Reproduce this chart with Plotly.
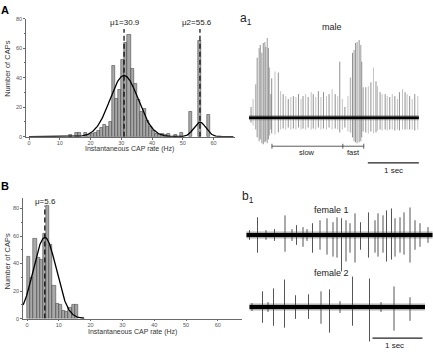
import plotly.graph_objects as go
import numpy as np

W, H = 433, 354
FONT = "Liberation Sans, Arial, sans-serif"

# ---------------- data ----------------
# Panel A: histogram of instantaneous CAP rate (male), 1 Hz bins (left edges)
a_bins = [13, 15, 16, 18, 19, 20, 21, 22, 23, 24, 25, 26, 27, 28, 29, 30, 31, 32,
          33, 34, 35, 36, 37, 38, 39, 40, 41, 42, 43, 44, 45, 47, 49, 52, 55, 58]
a_counts = [1, 3, 3, 3, 1, 2, 3, 4, 6, 8, 7, 10, 48, 26, 32, 52, 64, 69,
            46, 36, 25, 17, 19, 11, 7, 4, 2, 1, 2, 1, 2, 1, 3, 17, 65, 15]
a_mu = [30.9, 55.6]
a_amp = [41.5, 9.8]
a_sigma = [4.6, 2.0]
a_xticks = [0, 10, 20, 30, 40, 50, 60]
a_yticks = [0, 20, 40, 60, 80]

# Panel B: histogram (female)
b_bins = [0, 1, 2, 3, 4, 5, 6, 7, 8, 9, 10, 11, 12, 13, 14, 15, 17]
b_counts = [45, 30, 58, 44, 43, 62, 82, 54, 24, 11, 10, 6, 5, 8, 10, 10, 1]
b_mu = 5.6
b_amp = 59
b_sigma = 3.6
b_xticks = [0, 10, 20, 30, 40, 50, 60]
b_yticks = [0, 20, 40, 60, 80]

# a1: male recording (time in s, spike amplitudes in a.u.)
male_start, male_end = 0.0, 3.33
male_t = [0.04, 0.08,
          0.445, 0.51, 0.575, 0.62, 0.67, 0.72, 0.77, 0.82, 0.87, 0.92, 0.97, 1.02,
          1.06, 1.11, 1.16, 1.22, 1.26, 1.31, 1.36, 1.41, 1.46, 1.52, 1.57, 1.63,
          1.69, 1.74, 1.78, 1.83, 1.88, 1.94,
          2.29, 2.34, 2.39, 2.44, 2.49, 2.52, 2.57, 2.61, 2.67, 2.71, 2.76, 2.81,
          2.86, 2.91, 2.95, 3.01, 3.06, 3.10, 3.15, 3.20, 3.25, 3.31]
male_up = [11, 19,
           40, 47, 46, 27, 24, 22, 19, 21, 22, 21, 24, 19,
           22, 24, 21, 26, 24, 21, 27, 21, 26, 22, 24, 29,
           24, 22, 57, 19, 11, 22,
           31, 32, 36, 51, 37, 32, 26, 24, 24, 22, 21, 24,
           22, 19, 26, 29, 26, 24, 22, 19, 24, 22]
male_down = [5, 8,
             16, 17, 15, 12, 11, 12, 10, 12, 11, 12, 10, 12,
             11, 12, 10, 12, 11, 12, 10, 12, 11, 12, 10, 12,
             11, 12, 15, 12, 10, 14,
             15, 16, 14, 16, 15, 13, 12, 13, 12, 13, 12, 12,
             13, 12, 13, 12, 12, 12, 12, 12, 13, 12]
burst_t = [0.13, 0.16, 0.20, 0.22, 0.25, 0.28, 0.31, 0.33, 0.36, 0.38, 0.40, 0.43,
           1.99, 2.03, 2.06, 2.09, 2.12, 2.16, 2.19, 2.21, 2.24]
burst_up = [34, 61, 71, 74, 66, 76, 77, 72, 81, 71, 51, 24,
            41, 66, 69, 76, 77, 79, 74, 57, 31]
burst_down = [12, 20, 24, 22, 26, 27, 25, 24, 26, 22, 18, 12,
              15, 20, 24, 25, 26, 25, 24, 20, 14]
slow_span = [0.45, 1.84]
fast_span = [1.84, 2.25]
male_scalebar = [2.33, 3.33]

# b1: female recordings
f1_start, f1_end = -0.01, 3.71
f1_t = [0.05, 0.21, 0.38, 0.55, 0.76, 0.90, 0.99, 1.12, 1.20, 1.31, 1.46, 1.60, 1.72,
        1.80, 1.89, 1.98, 2.06, 2.16, 2.27, 2.43, 2.56, 2.62, 2.72, 2.79, 2.89,
        2.96, 3.06, 3.14, 3.26, 3.36, 3.46, 3.62]
f1_up = [5, 18, 5, 6, 20, 6, 10, 8, 6, 12, 15, 17, 13,
         18, 17, 15, 12, 22, 13, 23, 15, 22, 20, 25, 27,
         17, 18, 23, 28, 15, 12, 8]
f1_down = [5, 18, 5, 6, 17, 6, 10, 12, 6, 18, 15, 20, 22,
           23, 37, 27, 18, 28, 15, 23, 18, 22, 18, 27, 25,
           22, 18, 20, 28, 15, 12, 8]
f2_start, f2_end = 0.05, 3.56
f2_t = [0.10, 0.31, 0.42, 0.53, 0.75, 0.97, 1.23, 1.48, 1.65, 1.86, 2.11, 2.45,
        2.68, 2.94, 3.26]
f2_up = [4, 16, 5, 19, 28, 12, 13, 16, 18, 6, 31, 29, 5, 21, 10]
f2_down = [4, 16, 5, 19, 21, 12, 12, 17, 26, 6, 19, 35, 5, 24, 14]
female_scalebar = [2.51, 3.51]


# ---------------- helpers ----------------
def dx(p0, p1):
    return [p0 / W, p1 / W]


def dy(top, bottom):
    return [1 - bottom / H, 1 - top / H]


def segments(ts, ups, downs):
    xs, ys = [], []
    for t, u, d in zip(ts, ups, downs):
        xs += [t, t, None]
        ys += [u, -d, None]
    return xs, ys


def gauss(x, amp, mu, sig):
    return amp * np.exp(-(x - mu) ** 2 / (2 * sig ** 2))


fig = go.Figure()

# ---- Panel A ----
fig.add_trace(go.Bar(x=[b + 0.5 for b in a_bins], y=a_counts, width=1,
                     marker=dict(color="#a8a8a8", line=dict(color="#303030", width=0.5)),
                     xaxis="x", yaxis="y", showlegend=False))
xa = np.linspace(0, 66.5, 600)
ya = gauss(xa, a_amp[0], a_mu[0], a_sigma[0]) + gauss(xa, a_amp[1], a_mu[1], a_sigma[1])
fig.add_trace(go.Scatter(x=xa, y=ya, mode="lines", line=dict(color="black", width=1.3),
                         xaxis="x", yaxis="y", showlegend=False))
for m in a_mu:
    fig.add_trace(go.Scatter(x=[m, m], y=[0, 73], mode="lines",
                             line=dict(color="black", width=1.2, dash="5px,3px"),
                             xaxis="x", yaxis="y", showlegend=False))

# ---- Panel B ----
fig.add_trace(go.Bar(x=[b + 0.5 for b in b_bins], y=b_counts, width=1,
                     marker=dict(color="#a8a8a8", line=dict(color="#303030", width=0.5)),
                     xaxis="x2", yaxis="y2", showlegend=False))
xb = np.linspace(-1.2, 18, 300)
fig.add_trace(go.Scatter(x=xb, y=gauss(xb, b_amp, b_mu, b_sigma), mode="lines",
                         line=dict(color="black", width=1.3),
                         xaxis="x2", yaxis="y2", showlegend=False))
fig.add_trace(go.Scatter(x=[b_mu, b_mu], y=[0, 82], mode="lines",
                         line=dict(color="black", width=1.2, dash="5px,3px"),
                         xaxis="x2", yaxis="y2", showlegend=False))

# ---- a1 male trace ----
bx, by = segments(burst_t[0::2], burst_up[0::2], burst_down[0::2])
fig.add_trace(go.Scatter(x=bx, y=by, mode="lines", line=dict(color="#b8b8b8", width=1.4),
                         xaxis="x3", yaxis="y3", showlegend=False))
bx, by = segments(burst_t[1::2], burst_up[1::2], burst_down[1::2])
fig.add_trace(go.Scatter(x=bx, y=by, mode="lines", line=dict(color="#909090", width=1.0),
                         xaxis="x3", yaxis="y3", showlegend=False))
mx, my = segments(male_t[0::2], male_up[0::2], male_down[0::2])
fig.add_trace(go.Scatter(x=mx, y=my, mode="lines", line=dict(color="#606060", width=0.7),
                         xaxis="x3", yaxis="y3", showlegend=False))
mx, my = segments(male_t[1::2], male_up[1::2], male_down[1::2])
fig.add_trace(go.Scatter(x=mx, y=my, mode="lines", line=dict(color="#a8a8a8", width=0.7),
                         xaxis="x3", yaxis="y3", showlegend=False))
fig.add_trace(go.Scatter(x=[male_start, male_end], y=[0, 0], mode="lines",
                         line=dict(color="#555", width=5), opacity=0.5,
                         xaxis="x3", yaxis="y3", showlegend=False))
fig.add_trace(go.Scatter(x=[male_start, male_end], y=[0, 0], mode="lines",
                         line=dict(color="black", width=2.5),
                         xaxis="x3", yaxis="y3", showlegend=False))
# slow / fast bracket
brx = [slow_span[0], fast_span[1], None]
bry = [-29, -29, None]
for t in [slow_span[0], slow_span[1], fast_span[1]]:
    brx += [t, t, None]
    bry += [-26.5, -31.5, None]
fig.add_trace(go.Scatter(x=brx, y=bry, mode="lines", line=dict(color="#333", width=0.8),
                         xaxis="x3", yaxis="y3", showlegend=False))
fig.add_trace(go.Scatter(x=male_scalebar, y=[-46, -46], mode="lines",
                         line=dict(color="#222", width=1.2),
                         xaxis="x3", yaxis="y3", showlegend=False))

# ---- b1 female traces ----
for (ts, ups, dns, st, en, xa_, ya_) in [
        (f1_t, f1_up, f1_down, f1_start, f1_end, "x4", "y4"),
        (f2_t, f2_up, f2_down, f2_start, f2_end, "x5", "y5")]:
    sx, sy = segments(ts, ups, dns)
    fig.add_trace(go.Scatter(x=sx, y=sy, mode="lines", line=dict(color="#2a2a2a", width=0.8),
                             xaxis=xa_, yaxis=ya_, showlegend=False))
    fig.add_trace(go.Scatter(x=[st, en], y=[0, 0], mode="lines",
                             line=dict(color="#444", width=7), opacity=0.4,
                             xaxis=xa_, yaxis=ya_, showlegend=False))
    fig.add_trace(go.Scatter(x=[st, en], y=[0, 0], mode="lines",
                             line=dict(color="black", width=4),
                             xaxis=xa_, yaxis=ya_, showlegend=False))
fig.add_trace(go.Scatter(x=female_scalebar, y=[-31.7, -31.7], mode="lines",
                         line=dict(color="#222", width=1.2),
                         xaxis="x5", yaxis="y5", showlegend=False))

# ---------------- axes ----------------
hist_ax = dict(showline=True, linecolor="#6a6a6a", linewidth=0.8, ticks="outside",
               ticklen=2, tickwidth=0.6, tickcolor="#6a6a6a", showgrid=False,
               zeroline=False, tickfont=dict(family=FONT, size=5.5, color="#555"),
               fixedrange=True)
hidden = dict(visible=False, showgrid=False, zeroline=False, fixedrange=True)

fig.update_layout(
    width=W, height=H, margin=dict(l=0, r=0, t=0, b=0),
    paper_bgcolor="white", plot_bgcolor="rgba(0,0,0,0)",
    bargap=0, showlegend=False,
    xaxis=dict(hist_ax, domain=dx(26, 235), range=[-1, 67], anchor="y",
               tickvals=a_xticks, ticklabelstandoff=-1),
    yaxis=dict(hist_ax, domain=dy(16, 136), range=[0, 80], anchor="x",
               tickvals=a_yticks,
               minor=dict(ticks="outside", ticklen=1.5, tickwidth=0.5,
                          tickcolor="#6a6a6a", dtick=10)),
    xaxis2=dict(hist_ax, domain=dx(23, 242), range=[-1.26, 67.6], anchor="y2",
                tickvals=b_xticks, ticklabelstandoff=-1),
    yaxis2=dict(hist_ax, domain=dy(198, 321), range=[0, 87.9], anchor="x2",
                tickvals=b_yticks,
                minor=dict(ticks="outside", ticklen=1.5, tickwidth=0.5,
                           tickcolor="#6a6a6a", dtick=10)),
    xaxis3=dict(hidden, domain=dx(240, 433), range=[(240 - 249) / 51, (433 - 249) / 51],
                anchor="y3"),
    yaxis3=dict(hidden, domain=dy(25, 175), range=[-58.3, 91.7], anchor="x3"),
    xaxis4=dict(hidden, domain=dx(240, 433), range=[-0.14, 3.72], anchor="y4"),
    yaxis4=dict(hidden, domain=dy(195, 290), range=[-54, 41], anchor="x4"),
    xaxis5=dict(hidden, domain=dx(240, 433), range=[-0.14, 3.72], anchor="y5"),
    yaxis5=dict(hidden, domain=dy(262, 354), range=[-44.7, 47.3], anchor="x5"),
)


def label(text, px, py, size, bold=False, angle=0, xanchor="center", color="#222"):
    fig.add_annotation(text=f"<b>{text}</b>" if bold else text,
                       x=px / W, y=1 - py / H, xref="paper", yref="paper",
                       xanchor=xanchor, yanchor="middle", showarrow=False,
                       textangle=angle,
                       font=dict(family=FONT, size=size, color=color))


label("A", 5, 7, 11, bold=True, color="black")
label("B", 5, 186, 11, bold=True, color="black")
label("μ1=30.9", 125, 20, 8)
label("μ2=55.6", 197, 20, 8)
label("μ=5.6", 45.5, 202, 8)
label("Instantaneous CAP rate (Hz)", 129, 149, 7, color="#333")
label("Number of CAPs", 8, 67, 7.5, angle=-90, color="#333")
label("Instantaneous CAP rate (Hz)", 132, 334.5, 7, color="#333")
label("Number of CAPs", 8, 263, 7.5, angle=-90, color="#333")
label("a<sub>1</sub>", 238, 16, 12, xanchor="left")
label("b<sub>1</sub>", 240, 197, 12, xanchor="left")
label("male", 332, 24, 9)
label("female 1", 331.5, 211, 9)
label("female 2", 331.7, 275, 9)
label("slow", 307, 152, 7.5)
label("fast", 353, 152, 7.5)
label("1 sec", 393, 170, 8)
label("1 sec", 394, 348.5, 8)

fig.write_html("out.html", config={"displayModeBar": False},
               post_script=["document.body.style.margin='0px';"
                            "document.body.style.padding='0px';"])
